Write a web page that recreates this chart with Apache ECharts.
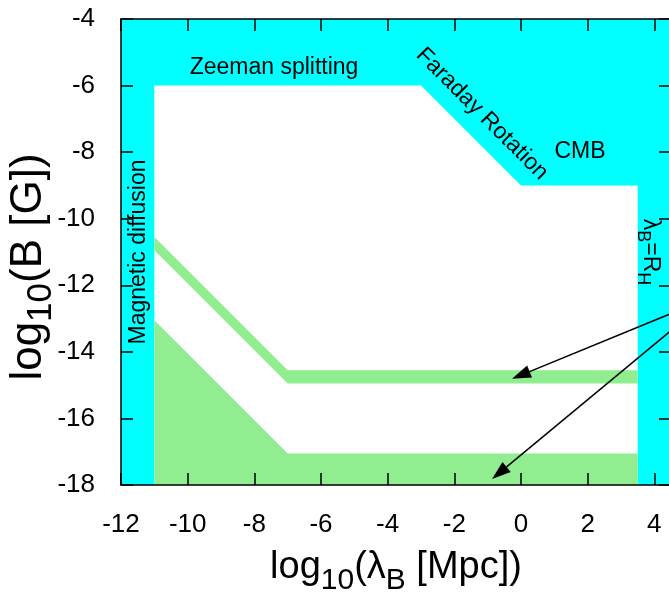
<!DOCTYPE html>
<html lang="en">
<head>
    <meta charset="UTF-8">
    <title>Magnetic field limits</title>
    <script src="https://cdn.jsdelivr.net/npm/echarts@6/dist/echarts.min.js"></script>
    <style>html, body { margin: 0; padding: 0; background: #fff; }</style>
</head>
<body>
<div id="chart" style="width: 669px; height: 594px;"></div>
<script>
    // x: log10(lambda_B [Mpc]), y: log10(B [G])
    var xMin = -12, xMax = 4.5, xStep = 2;
    var yMin = -18, yMax = -4, yStep = 2;

    // allowed (white) region, outlined by the cyan exclusions
    var allowedX = [-11, -11, -3, 0, 3.5, 3.5];
    var allowedY = [-18, -6, -6, -9, -9, -18];

    // upper green band
    var bandX = [-11, -7, 3.5, 3.5, -7, -11];
    var bandY = [-10.55, -14.55, -14.55, -14.95, -14.95, -10.95];

    // lower green region
    var lowerX = [-11, -11, -7, 3.5, 3.5];
    var lowerY = [-18, -13.05, -17.05, -17.05, -18];

    // text labels
    var labelText = ['Zeeman splitting', 'Faraday Rotation', 'CMB', 'Magnetic diffusion', '{m|λ}{s|B}{m|=R}{s|H}'];
    var labelX = [-7.41, -1.17, 1.77, -11.47, 3.87];
    var labelY = [-5.47, -6.85, -8.0, -11.0, -11.0];
    var labelAngle = [0, -45, 0, 90, -90];

    // arrows (start, tip)
    var arrowStart = [[5.72, -12.35], [5.72, -12.35]];
    var arrowTip = [[-0.27, -14.81], [-0.87, -17.82]];

    var FONT = 'Liberation Sans, Arial, Helvetica, sans-serif';
    var CYAN = '#00ffff';
    var GREEN = '#90ee90';

    function polygonSeries(xs, ys, color) {
        return {
            type: 'custom',
            coordinateSystem: 'cartesian2d',
            silent: true,
            data: [[xs[0], ys[0]]],
            renderItem: function (params, api) {
                var pts = xs.map(function (x, i) { return api.coord([x, ys[i]]); });
                return { type: 'polygon', shape: { points: pts }, style: { fill: color } };
            }
        };
    }

    var xTitleRich = {
        m: { fontSize: 38, fontFamily: FONT, color: '#000' },
        s: { fontSize: 30, fontFamily: FONT, color: '#000', padding: [26, 0, 0, 0] }
    };
    var yTitleRich = {
        m: { fontSize: 44, fontFamily: FONT, color: '#000' },
        s: { fontSize: 35, fontFamily: FONT, color: '#000', padding: [26, 0, 0, 0] }
    };
    var smallRich = {
        m: { fontSize: 23, fontFamily: FONT, fill: '#000' },
        s: { fontSize: 18, fontFamily: FONT, fill: '#000', padding: [15, 0, 0, 0] }
    };

    function axisCommon() {
        return {
            type: 'value',
            z: 10,
            splitLine: { show: false },
            axisLine: { show: true, onZero: false, lineStyle: { color: '#000', width: 1.5 } },
            axisTick: { show: true, inside: true, length: 12, lineStyle: { color: '#000', width: 1.5 } }
        };
    }

    var xBottom = Object.assign(axisCommon(), {
        position: 'bottom', min: xMin, max: xMax, interval: xStep,
        name: '{m|log}{s|10}{m|(λ}{s|B}{m| [Mpc])}',
        nameLocation: 'middle', nameGap: 55, nameMoveOverlap: false,
        nameTextStyle: { rich: xTitleRich },
        axisLabel: {
            margin: 27, fontSize: 26, fontFamily: FONT, color: '#000',
            formatter: function (v) { return v % xStep === 0 ? String(v) : ''; }
        }
    });
    var xTop = Object.assign(axisCommon(), {
        position: 'top', min: xMin, max: xMax, interval: xStep, axisLabel: { show: false }
    });
    var yLeft = Object.assign(axisCommon(), {
        position: 'left', min: yMin, max: yMax, interval: yStep,
        name: '{m|log}{s|10}{m|(B [G])}',
        nameLocation: 'middle', nameGap: 62, nameMoveOverlap: false,
        nameTextStyle: { rich: yTitleRich, padding: [0, 30, 0, 0] },
        axisLabel: { margin: 26, fontSize: 26, fontFamily: FONT, color: '#000' }
    });
    var yRight = Object.assign(axisCommon(), {
        position: 'right', min: yMin, max: yMax, interval: yStep, axisLabel: { show: false }
    });

    var chart = echarts.init(document.getElementById('chart'));
    chart.setOption({
        animation: false,
        grid: {
            left: 121, right: -2, top: 19, bottom: 109,
            outerBoundsMode: 'none',
            show: true, backgroundColor: CYAN, borderWidth: 0
        },
        xAxis: [xBottom, xTop],
        yAxis: [yLeft, yRight],
        series: [
            polygonSeries(allowedX, allowedY, '#ffffff'),
            polygonSeries(bandX, bandY, GREEN),
            polygonSeries(lowerX, lowerY, GREEN),
            {
                type: 'custom',
                coordinateSystem: 'cartesian2d',
                silent: true,
                z: 4,
                data: labelText.map(function (t, i) { return [labelX[i], labelY[i]]; }),
                renderItem: function (params, api) {
                    var i = params.dataIndex;
                    var p = api.coord([labelX[i], labelY[i]]);
                    return {
                        type: 'text',
                        x: p[0], y: p[1],
                        rotation: labelAngle[i] * Math.PI / 180,
                        style: {
                            text: labelText[i],
                            rich: smallRich,
                            fontSize: 23, fontFamily: FONT, fill: '#000',
                            align: 'center', verticalAlign: 'middle'
                        }
                    };
                }
            },
            {
                // arrows: line plus filled head
                type: 'custom',
                coordinateSystem: 'cartesian2d',
                silent: true,
                clip: false,
                z: 5,
                data: arrowTip.map(function (t) { return [t[0], t[1]]; }),
                renderItem: function (params, api) {
                    var i = params.dataIndex;
                    var a = api.coord(arrowStart[i]);
                    var b = api.coord(arrowTip[i]);
                    var dx = b[0] - a[0], dy = b[1] - a[1];
                    var len = Math.sqrt(dx * dx + dy * dy);
                    var ux = dx / len, uy = dy / len;
                    var headLen = 19, halfW = 6.5;
                    var bx = b[0] - ux * headLen, by = b[1] - uy * headLen;
                    return {
                        type: 'group',
                        children: [
                            {
                                type: 'line',
                                shape: { x1: a[0], y1: a[1], x2: bx, y2: by },
                                style: { stroke: '#000', lineWidth: 1.5 }
                            },
                            {
                                type: 'polygon',
                                shape: { points: [b, [bx - uy * halfW, by + ux * halfW], [bx + uy * halfW, by - ux * halfW]] },
                                style: { fill: '#000' }
                            }
                        ]
                    };
                }
            }
        ]
    });
</script>
</body>
</html>
